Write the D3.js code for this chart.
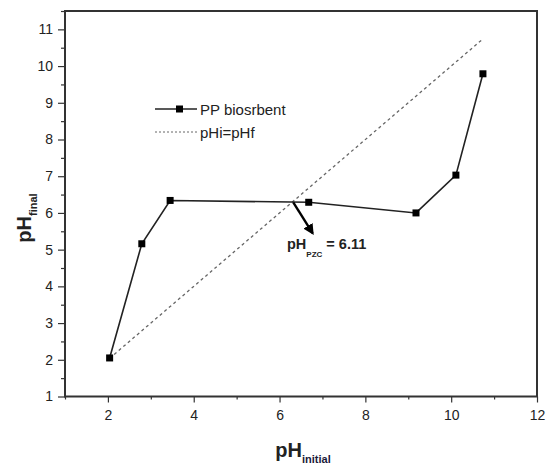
<!DOCTYPE html>
<html>
<head>
<meta charset="utf-8">
<script src="https://cdn.jsdelivr.net/npm/d3@7"></script>
<style>
  body { margin: 0; background: #fff; }
  svg { font-family: "Liberation Sans", Arial, sans-serif; }
  .axis path { display: none; }
  .axis line { stroke: #333; stroke-width: 1.2; }
  .axis text { font-size: 14px; fill: #222; }
</style>
</head>
<body>
<div id="chart"></div>
<script>
// values
var phInitial = [2.04, 2.79, 3.45, 6.68, 9.18, 10.11, 10.74],
    phFinal = [2.05, 5.16, 6.34, 6.29, 6.00, 7.03, 9.79],
    refLine = [2.04, 10.75], // pHi = pHf
    xTicks = [2, 4, 6, 8, 10, 12],
    xMinor = [1, 3, 5, 7, 9, 11],
    yTicks = [1, 2, 3, 4, 5, 6, 7, 8, 9, 10, 11],
    yMinor = [1.5, 2.5, 3.5, 4.5, 5.5, 6.5, 7.5, 8.5, 9.5, 10.5, 11.5],
    pzc = 6.11,
    arrowFrom = [6.32, 6.29],
    arrowTo = [6.77, 5.45];

var chart = {
    w: 550,
    h: 467,
    left: 65,
    right: 537,
    top: 11,
    bottom: 396.5,
    plot: function() {
        var self = this;
        var svg = d3.select("#chart").append("svg")
            .attr("width", this.w)
            .attr("height", this.h);

        var x = d3.scaleLinear().domain([1, 12]).range([this.left, this.right]),
            y = d3.scaleLinear().domain([1, 11.5]).range([this.bottom, this.top]);

        // minor ticks first
        svg.append("g").attr("class", "axis")
            .attr("transform", "translate(0," + this.bottom + ")")
            .call(d3.axisBottom(x).tickValues(xMinor).tickSize(3).tickFormat(""));
        svg.append("g").attr("class", "axis")
            .attr("transform", "translate(" + this.left + ",0)")
            .call(d3.axisLeft(y).tickValues(yMinor).tickSize(4).tickFormat(""));

        svg.append("g").attr("class", "axis")
            .attr("transform", "translate(0," + this.bottom + ")")
            .call(d3.axisBottom(x).tickValues(xTicks).tickSize(6).tickPadding(8));
        svg.append("g").attr("class", "axis")
            .attr("transform", "translate(" + this.left + ",0)")
            .call(d3.axisLeft(y).tickValues(yTicks).tickSize(7).tickPadding(5));

        // frame
        svg.append("rect")
            .attr("x", this.left).attr("y", this.top)
            .attr("width", this.right - this.left)
            .attr("height", this.bottom - this.top)
            .attr("fill", "none")
            .attr("stroke", "#333")
            .attr("stroke-width", 2);

        // pHi = pHf reference
        svg.append("line")
            .attr("x1", x(refLine[0])).attr("y1", y(refLine[0]))
            .attr("x2", x(refLine[1])).attr("y2", y(refLine[1]))
            .attr("stroke", "#666")
            .attr("stroke-width", 1.3)
            .attr("stroke-dasharray", "3,3");

        var pts = phInitial.map(function(d, i) { return [d, phFinal[i]]; });
        svg.append("path")
            .datum(pts)
            .attr("fill", "none")
            .attr("stroke", "#222")
            .attr("stroke-width", 1.6)
            .attr("d", d3.line().x(function(d) { return x(d[0]); }).y(function(d) { return y(d[1]); }));

        svg.append("g").selectAll("rect")
            .data(pts)
            .enter()
            .append("rect")
            .attr("x", function(d) { return x(d[0]) - 3.5; })
            .attr("y", function(d) { return y(d[1]) - 3.5; })
            .attr("width", 7)
            .attr("height", 7)
            .attr("fill", "#000");

        // arrow to the PZC
        svg.append("defs").append("marker")
            .attr("id", "head")
            .attr("viewBox", "0 0 10 10")
            .attr("refX", 8).attr("refY", 5)
            .attr("markerWidth", 4.5).attr("markerHeight", 4.5)
            .attr("orient", "auto")
            .append("path")
            .attr("d", "M0,0 L10,5 L0,10 z")
            .attr("fill", "#000");
        svg.append("line")
            .attr("x1", x(arrowFrom[0])).attr("y1", y(arrowFrom[1]))
            .attr("x2", x(arrowTo[0])).attr("y2", y(arrowTo[1]))
            .attr("stroke", "#000")
            .attr("stroke-width", 2.4)
            .attr("marker-end", "url(#head)");

        var lab = svg.append("text")
            .attr("x", 287).attr("y", 249)
            .attr("font-size", 14.5)
            .attr("font-weight", "bold")
            .attr("fill", "#222");
        lab.append("tspan").text("pH");
        lab.append("tspan").attr("dy", 8).attr("font-size", 8).text("PZC");
        lab.append("tspan").attr("dy", -8).text(" = " + pzc.toFixed(2));

        // legend
        var lg = svg.append("g");
        lg.append("line")
            .attr("x1", 155).attr("x2", 197).attr("y1", 109).attr("y2", 109)
            .attr("stroke", "#222").attr("stroke-width", 1.6);
        lg.append("rect")
            .attr("x", 176).attr("y", 105.5).attr("width", 7).attr("height", 7)
            .attr("fill", "#000");
        lg.append("text")
            .attr("x", 200).attr("y", 114.5)
            .attr("font-size", 15).attr("fill", "#222")
            .text("PP biosrbent");
        lg.append("line")
            .attr("x1", 155).attr("x2", 197).attr("y1", 132).attr("y2", 132)
            .attr("stroke", "#666").attr("stroke-width", 1)
            .attr("stroke-dasharray", "2,2");
        lg.append("text")
            .attr("x", 200).attr("y", 137.5)
            .attr("font-size", 15).attr("fill", "#222")
            .text("pHi=pHf");

        // axis titles
        var xt = svg.append("text")
            .attr("x", 303).attr("y", 457)
            .attr("text-anchor", "middle")
            .attr("font-weight", "bold")
            .attr("font-size", 20)
            .attr("fill", "#222");
        xt.append("tspan").text("pH");
        xt.append("tspan").attr("dy", 6).attr("font-size", 11).attr("fill", "#1a1a3a").text("initial");

        var yt = svg.append("text")
            .attr("transform", "translate(31,218) rotate(-90)")
            .attr("text-anchor", "middle")
            .attr("font-weight", "bold")
            .attr("font-size", 20)
            .attr("fill", "#222");
        yt.append("tspan").text("pH");
        yt.append("tspan").attr("dy", 6).attr("font-size", 11).text("final");
    }
};

chart.plot();
</script>
</body>
</html>
